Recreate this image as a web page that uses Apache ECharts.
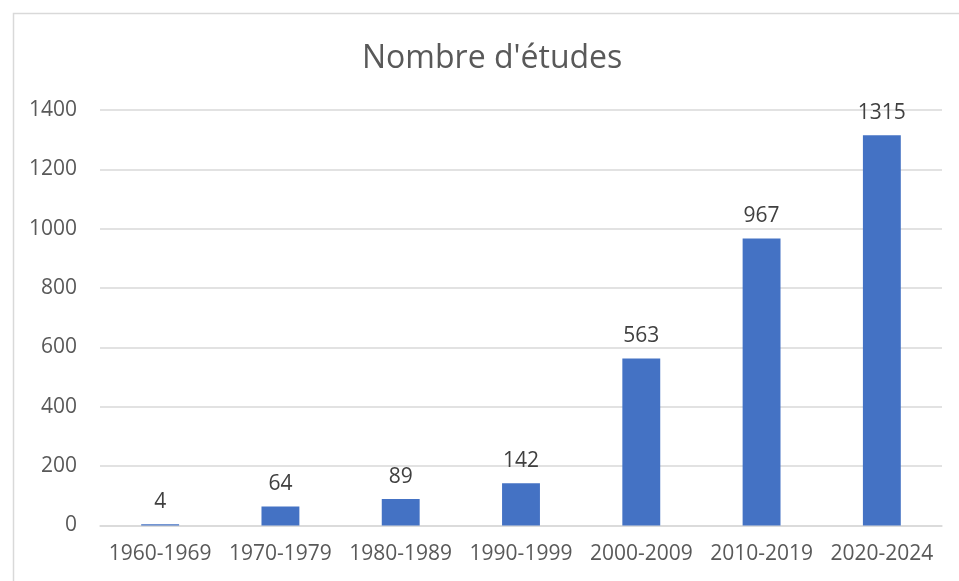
<!DOCTYPE html>
<html><head><meta charset="utf-8">
<script src="https://cdn.jsdelivr.net/npm/echarts@6/dist/echarts.min.js"></script>
<style>html,body{margin:0;padding:0;background:#fff}#c{width:959px;height:581px}</style>
</head><body><div id="c"></div>
<script>
const categories = ['1960-1969','1970-1979','1980-1989','1990-1999','2000-2009','2010-2019','2020-2024'];
const values = [4, 64, 89, 142, 563, 967, 1315];
const yTicks = {min: 0, max: 1400, interval: 200};
const titleText = "Nombre d'études";

const chart = echarts.init(document.getElementById('c'), null, {renderer: 'canvas'});
const font = 'Open Sans';
chart.setOption({
  backgroundColor: '#ffffff',
  animation: false,
  graphic: [{
    type: 'rect', left: 11, top: 11, silent: true,
    shape: {width: 1000, height: 1000},
    style: {fill: 'none', stroke: '#d9d9d9', lineWidth: 1.5}
  }],
  title: {
    text: titleText, left: 357, top: 38,
    textStyle: {fontFamily: font, fontSize: 32, fontWeight: 'normal', color: '#595959'}
  },
  grid: {left: 100, right: 17, top: 110, bottom: 55.5, containLabel: false},
  xAxis: {
    type: 'category', data: categories,
    axisLine: {show: true, lineStyle: {color: '#d9d9d9', width: 1.5}},
    axisTick: {show: false},
    axisLabel: {interval: 0, fontFamily: font, fontSize: 21, color: '#595959', margin: 18}
  },
  yAxis: {
    type: 'value', min: yTicks.min, max: yTicks.max, interval: yTicks.interval,
    axisLine: {show: false}, axisTick: {show: false},
    splitLine: {lineStyle: {color: '#d9d9d9', width: 1.5}},
    axisLabel: {fontFamily: font, fontSize: 21, color: '#595959', margin: 23, formatter: v => String(v)}
  },
  series: [{
    type: 'bar', data: values, barWidth: '31.5%',
    itemStyle: {color: '#4472C4'},
    label: {show: true, position: 'top', distance: 12, fontFamily: font, fontSize: 21, color: '#404040'}
  }]
});
</script></body></html>
